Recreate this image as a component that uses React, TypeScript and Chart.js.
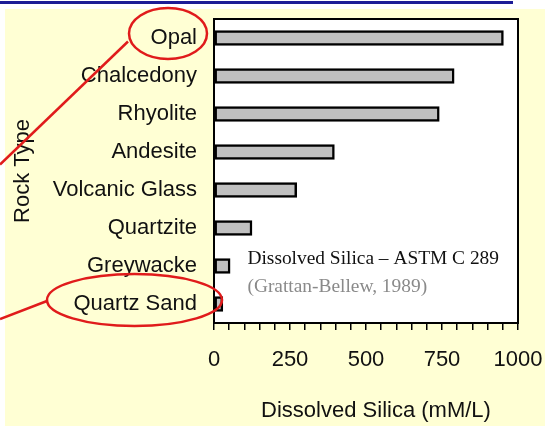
import React, { useEffect, useRef } from "react";
import { Chart, registerables } from "chart.js";

Chart.register(...registerables);

const rockTypes = [
  "Opal",
  "Chalcedony",
  "Rhyolite",
  "Andesite",
  "Volcanic Glass",
  "Quartzite",
  "Greywacke",
  "Quartz Sand",
];
const dissolvedSilica = [952, 790, 741, 396, 272, 125, 53, 29];
const xLabelValues = [0, 250, 500, 750, 1000];
const noteTitle = "Dissolved Silica \u2013 ASTM C 289";
const noteSource = "(Grattan-Bellew, 1989)";
const xTitle = "Dissolved Silica (mM/L)";
const yTitle = "Rock Type";

const SANS = "'Liberation Sans', Arial, Helvetica, sans-serif";
const SERIF = "'Liberation Serif', 'Times New Roman', serif";
const TEXT = "#111111";

const zeroPad = (s: any) => {
  s.paddingLeft = 0;
  s.paddingRight = 0;
  s.paddingTop = 0;
  s.paddingBottom = 0;
};

const decoPlugin = {
  id: "deco",
  beforeDraw(chart: any) {
    const { ctx, width, height, chartArea } = chart;
    ctx.save();
    ctx.fillStyle = "#ffffff";
    ctx.fillRect(0, 0, width, height);
    ctx.fillStyle = "#ffffd4";
    ctx.fillRect(5, 9, width - 5, height - 9);
    ctx.strokeStyle = "#1c1c96";
    ctx.lineWidth = 3;
    ctx.beginPath();
    ctx.moveTo(0, 2.5);
    ctx.lineTo(width - 32, 2.5);
    ctx.stroke();
    ctx.fillStyle = "#ffffff";
    ctx.fillRect(chartArea.left, chartArea.top, chartArea.right - chartArea.left, chartArea.bottom - chartArea.top);
    ctx.restore();
  },
  afterDraw(chart: any) {
    const { ctx, chartArea, scales } = chart;
    const xs = scales.x;
    const ys = scales.y;
    ctx.save();
    // plot frame
    ctx.strokeStyle = "#000";
    ctx.lineWidth = 2;
    ctx.strokeRect(chartArea.left, chartArea.top, chartArea.right - chartArea.left, chartArea.bottom - chartArea.top);

    // x axis title (slightly right of centre, as in the original)
    ctx.font = `22px ${SANS}`;
    ctx.fillStyle = TEXT;
    ctx.textAlign = "center";
    ctx.textBaseline = "middle";
    ctx.fillText(xTitle, (chartArea.left + chartArea.right) / 2 + 10, xs.bottom - 15);

    // note text
    const nx = xs.getPixelForValue(110);
    const ny = ys.getPixelForValue(6);
    ctx.textAlign = "left";
    ctx.textBaseline = "middle";
    ctx.font = `19.4px ${SERIF}`;
    ctx.fillStyle = TEXT;
    ctx.fillText(noteTitle, nx, ny - 7);
    ctx.fillStyle = "#8a8a8a";
    ctx.fillText(noteSource, nx, ny + 21);

    // red callouts
    ctx.strokeStyle = "#e01b1b";
    ctx.lineWidth = 2.5;
    const oy = ys.getPixelForValue(0) - 4.5;
    ctx.beginPath();
    ctx.ellipse(168, oy, 39, 25.5, 0, 0, Math.PI * 2);
    ctx.stroke();
    ctx.beginPath();
    ctx.moveTo(128, oy + 8);
    ctx.lineTo(0, oy + 131);
    ctx.stroke();

    const qy = ys.getPixelForValue(7) - 4;
    ctx.beginPath();
    ctx.ellipse(134.5, qy, 87.5, 26, 0, 0, Math.PI * 2);
    ctx.stroke();
    ctx.beginPath();
    ctx.moveTo(47, qy + 1);
    ctx.lineTo(0, qy + 19);
    ctx.stroke();
    ctx.restore();
  },
};

export default function App() {
  const ref = useRef<HTMLCanvasElement>(null);
  useEffect(() => {
    if (!ref.current) return;
    const chart = new Chart(ref.current, {
      type: "bar",
      data: {
        labels: rockTypes,
        datasets: [
          {
            data: dissolvedSilica,
            backgroundColor: "#c0c0c0",
            borderColor: "#000",
            borderWidth: 2.5,
            borderSkipped: false,
            barThickness: 15,
          },
        ],
      },
      options: {
        indexAxis: "y",
        animation: false,
        responsive: false,
        maintainAspectRatio: false,
        layout: { padding: { left: 0, top: 19, right: 27, bottom: 0 } },
        plugins: { legend: { display: false }, tooltip: { enabled: false } },
        scales: {
          x: {
            min: 0,
            max: 1000,
            afterFit: (s: any) => {
              s.height = 103;
              zeroPad(s);
            },
            ticks: {
              stepSize: 50,
              autoSkip: false,
              maxRotation: 0,
              padding: 17,
              color: TEXT,
              font: { family: SANS, size: 22 },
              callback: (v: any) => (xLabelValues.includes(Number(v)) ? String(v) : ""),
            },
            grid: {
              display: true,
              drawOnChartArea: false,
              drawTicks: true,
              tickLength: 7,
              color: "#000",
              lineWidth: 1.5,
            },
            border: { display: true, color: "#000", width: 2 },
            title: { display: false },
          },
          y: {
            afterFit: (s: any) => {
              s.width = 214;
              zeroPad(s);
            },
            ticks: {
              padding: 17,
              color: TEXT,
              font: { family: SANS, size: 22 },
              autoSkip: false,
            },
            grid: { display: false, drawTicks: false },
            border: { display: true, color: "#000", width: 2 },
            title: {
              display: true,
              text: yTitle,
              color: TEXT,
              font: { family: SANS, size: 22 },
              padding: { top: 10, bottom: 0 },
            },
          },
        },
      },
      plugins: [decoPlugin],
    });
    return () => chart.destroy();
  }, []);
  return (
    <div style={{ position: "absolute", left: 0, top: 0, width: 545, height: 426 }}>
      <canvas ref={ref} width={545} height={426} style={{ width: 545, height: 426, display: "block" }} />
    </div>
  );
}
